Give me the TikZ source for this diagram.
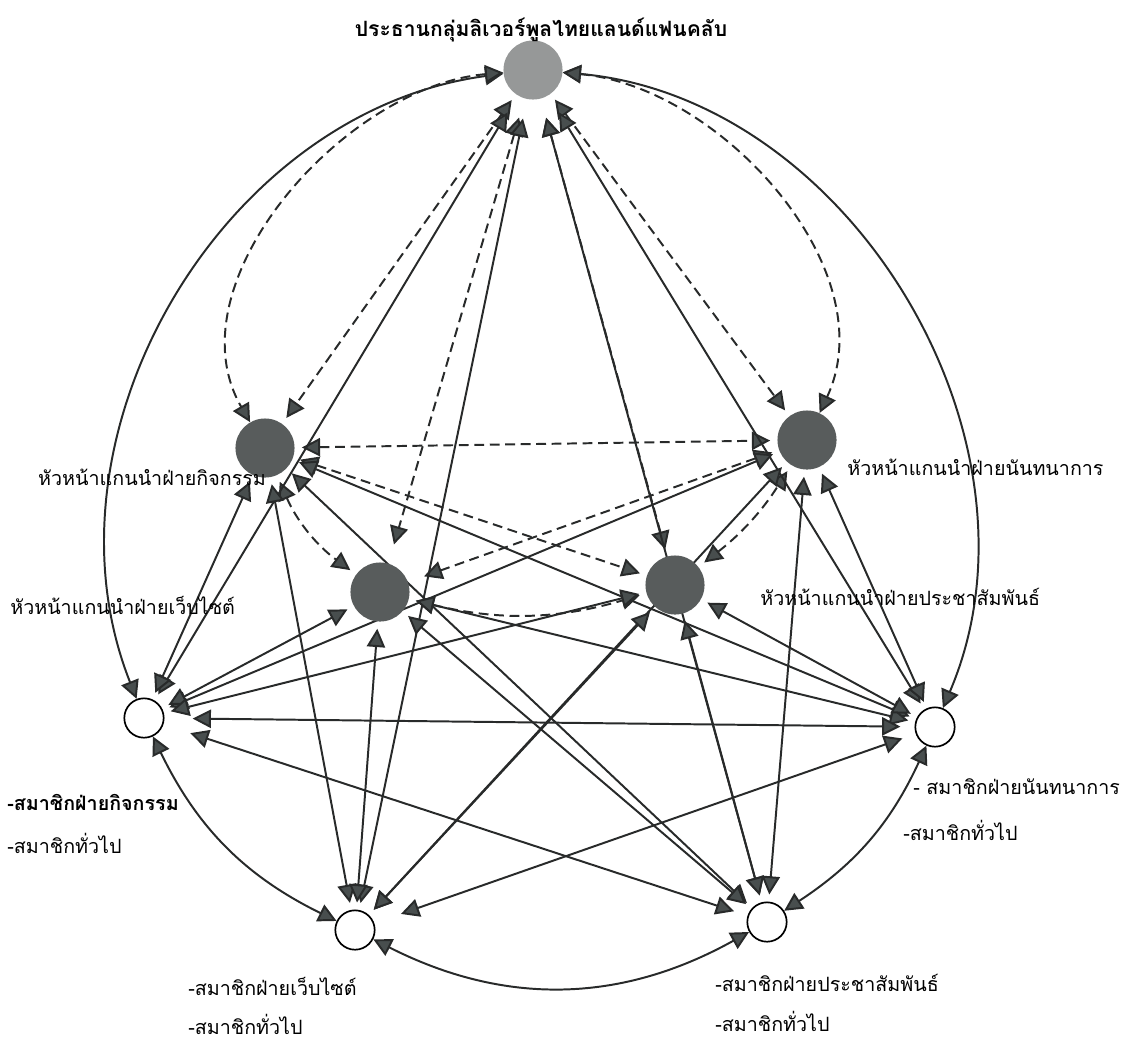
\documentclass[tikz,border=0pt]{standalone}
\usepackage{fontspec}
\newfontfamily\thaifont[Script=Thai]{Loma}
\usetikzlibrary{arrows.meta,backgrounds}
\definecolor{presgray}{RGB}{150,152,152}
\definecolor{headgray}{RGB}{88,92,92}
\definecolor{tipgray}{RGB}{72,78,78}
\definecolor{linegray}{RGB}{40,42,42}
\tikzset{
	pres/.style={circle,minimum size=42pt,inner sep=0pt,fill=presgray},
	headnode/.style={circle,minimum size=42pt,inner sep=0pt,fill=headgray},
	member/.style={circle,draw=black,line width=1.2pt,fill=white,minimum size=28pt,inner sep=0pt},
	solidlink/.style={{Triangle[length=13pt,width=13pt,fill=tipgray]}-{Triangle[length=13pt,width=13pt,fill=tipgray]},draw=linegray,line width=1.4pt,shorten <=5pt,shorten >=5pt},
	dashlink/.style={solidlink,dash pattern=on 7pt off 4pt},
	ring/.style={solidlink,shorten <=0pt,shorten >=0pt},
	lbl/.style={font=\fontsize{14}{17}\selectfont\thaifont,inner sep=0pt},
	boldlbl/.style={lbl,font=\fontsize{14}{17}\selectfont\thaifont\bfseries}
}
\begin{document}
\begin{tikzpicture}[x=0.025cm,y=-0.025cm]
	\useasboundingbox (0,0) rectangle (1125,1041);
	% President
	\node [pres] (P) at (533,70) {};
		\node [boldlbl,font=\fontsize{15}{18}\selectfont\thaifont\bfseries] (Ptxt) at (541,30) {ประธานกลุ่มลิเวอร์พูลไทยแลนด์แฟนคลับ};
	% Heads
	\node [headnode] (A) at (265,448) {};
	\node [headnode] (E) at (807,440) {};
	\node [headnode] (W) at (380,592) {};
	\node [headnode] (R) at (675,585) {};
		\node [lbl] (Atxt) at (152,477) {หัวหน้าแกนนำฝ่ายกิจกรรม};
		\node [lbl,anchor=west] (Etxt) at (847,467) {หัวหน้าแกนนำฝ่ายนันทนาการ};
		\node [lbl,anchor=west] (Wtxt) at (10,605) {หัวหน้าแกนนำฝ่ายเว็บไซต์};
		\node [lbl,anchor=west] (Rtxt) at (760,597) {หัวหน้าแกนนำฝ่ายประชาสัมพันธ์};
	% Members
	\node [member] (MA) at (144,718) {};
	\node [member] (MW) at (355,930) {};
	\node [member] (MR) at (767,922) {};
	\node [member] (ME) at (935,727) {};
		\node [boldlbl,anchor=west] (MAtxt) at (7,802) {-สมาชิกฝ่ายกิจกรรม};
		\node [lbl,anchor=west] (MAgen) at (7,843) {-สมาชิกทั่วไป};
		\node [lbl,anchor=west] (MWtxt) at (188,986) {-สมาชิกฝ่ายเว็บไซต์};
		\node [lbl,anchor=west] (MWgen) at (188,1024) {-สมาชิกทั่วไป};
		\node [lbl,anchor=west] (MRtxt) at (715,983) {-สมาชิกฝ่ายประชาสัมพันธ์};
		\node [lbl,anchor=west] (MRgen) at (715,1021) {-สมาชิกทั่วไป};
		\node [lbl,anchor=west] (MEtxt) at (913,787) {- สมาชิกฝ่ายนันทนาการ};
		\node [lbl,anchor=west] (MEgen) at (903,830) {-สมาชิกทั่วไป};
	\begin{scope}[on background layer]
	% Outer ring
	\draw [ring] (P) to [bend right=52] (MA);
	\draw [ring] (MA) to [bend right=19] (MW);
	\draw [ring] (MW) to [bend right=28] (MR);
	\draw [ring] (MR) to [bend right=16] (ME);
	\draw [ring] (P) to [bend left=54] (ME);
	% Dashed links between president and heads
	\draw [dashlink,shorten <=0pt,shorten >=0pt] (P) to [out=185,in=120,looseness=0.95] (A);
	\draw [dashlink,shorten <=0pt,shorten >=0pt] (P) to [out=-5,in=65,looseness=0.95] (E);
	\draw [dashlink] (P) -- (A);
	\draw [dashlink] (P) -- (E);
	\draw [dashlink,shorten <=14pt,shorten >=14pt] (P) -- (W);
	\draw [dashlink,shorten <=14pt] (P) -- (R);
	\draw [dashlink] (A) -- (E);
	\draw [dashlink] (A) -- (R);
	\draw [dashlink,shorten >=12pt] (E) -- (W);
	\draw [dashlink] (A) to [bend right=15] (W);
	\draw [dashlink] (W) to [bend right=15] (R);
	\draw [dashlink] (R) to [bend right=10] (E);
	% President to members
	\draw [solidlink,shorten <=14pt] (P) -- (MA);
	\draw [solidlink,shorten <=14pt] (P) -- (MW);
	\draw [solidlink,shorten <=14pt] (P) -- (MR);
	\draw [solidlink,shorten <=14pt] (P) -- (ME);
	% Heads to members
	\foreach \h in {A,E,W,R}
		\foreach \m in {MA,MW,MR,ME}
			\draw [solidlink] (\h) -- (\m);
	% Members to members
	\draw [solidlink,shorten <=20pt,shorten >=10pt] (MA) -- (ME);
	\draw [solidlink,shorten <=20pt,shorten >=10pt] (MA) -- (MR);
	\draw [solidlink,shorten <=20pt,shorten >=10pt] (MW) -- (ME);
	\end{scope}
\end{tikzpicture}
\end{document}
